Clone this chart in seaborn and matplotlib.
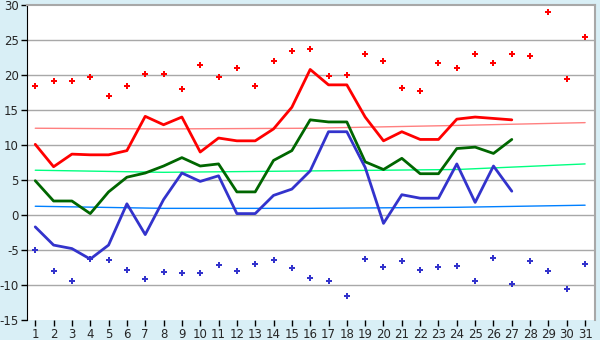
import matplotlib
matplotlib.use("Agg")
import matplotlib.pyplot as plt
import seaborn as sns
import pandas as pd

days = list(range(1, 32))
line_days = list(range(1, 28))

red_max = [18.4, 19.1, 19.2, 19.7, 17.0, 18.5, 20.2, 20.2, 18.0, 21.4,
           19.7, 21.0, 18.4, 22.0, 23.5, 23.7, 19.8, 20.0, 23.0, 22.0,
           18.1, 17.7, 21.7, 21.0, 23.0, 21.7, 23.0, 22.7, 29.0, 19.5, 25.4]
red_mean = [10.1, 6.9, 8.7, 8.6, 8.6, 9.2, 14.1, 12.9, 14.0, 9.0,
            11.0, 10.6, 10.6, 12.3, 15.4, 20.8, 18.6, 18.6, 14.0, 10.6,
            11.9, 10.8, 10.8, 13.7, 14.0, 13.8, 13.6]
green_mean = [4.9, 2.0, 2.0, 0.2, 3.3, 5.4, 6.0, 7.0, 8.2, 7.0,
              7.3, 3.3, 3.3, 7.8, 9.2, 13.6, 13.3, 13.3, 7.6, 6.5,
              8.1, 5.9, 5.9, 9.5, 9.7, 8.8, 10.8]
blue_mean = [-1.7, -4.3, -4.8, -6.3, -4.3, 1.6, -2.8, 2.2, 6.0, 4.8,
             5.6, 0.2, 0.2, 2.8, 3.7, 6.3, 11.9, 11.9, 6.8, -1.2,
             2.9, 2.4, 2.4, 7.3, 1.8, 7.0, 3.4]
blue_min = [-5.0, -8.0, -9.5, -6.3, -6.5, -7.8, -9.2, -8.2, -8.3, -8.3,
            -7.2, -8.0, -7.0, -6.5, -7.6, -9.0, -9.5, -11.6, -6.3, -7.5,
            -6.6, -7.8, -7.5, -7.3, -9.5, -6.2, -9.8, -6.6, -8.0, -10.6, -7.0]

# trend curves, read at a few days
trend_days = [1, 8, 16, 24, 31]
red_trend = [12.4, 12.3, 12.4, 12.8, 13.2]
green_trend = [6.4, 6.1, 6.3, 6.5, 7.3]
blue_trend = [1.25, 0.95, 0.95, 1.1, 1.4]

yticks = list(range(-15, 31, 5))

sns.set_style("white")
plt.rcParams['font.family'] = ['DejaVu Sans']
plt.rcParams['axes.unicode_minus'] = False

fig = plt.figure(figsize=(6, 3.4), dpi=100, facecolor="#d9eff6")
ax = fig.add_axes([0.045, 0.059, 0.947, 0.926])
ax.set_facecolor("white")

for y in yticks[1:-1]:
    ax.axhline(y, color="#a8a8a8", lw=1, zorder=0)

sns.lineplot(x=trend_days, y=red_trend, color="#ff8080", lw=1, ax=ax)
sns.lineplot(x=trend_days, y=green_trend, color="#00ff80", lw=1, ax=ax)
sns.lineplot(x=trend_days, y=blue_trend, color="#0080ff", lw=1, ax=ax)

sns.lineplot(x=line_days, y=red_mean, color="#ff0000", lw=2, ax=ax)
sns.lineplot(x=line_days, y=green_mean, color="#006600", lw=2, ax=ax)
sns.lineplot(x=line_days, y=blue_mean, color="#3333cc", lw=2, ax=ax)

sns.scatterplot(x=days, y=red_max, color="#ff0000", marker="P", s=14,
                linewidth=0, ax=ax)
sns.scatterplot(x=days, y=blue_min, color="#3333cc", marker="P", s=14,
                linewidth=0, ax=ax)

ax.set_xlim(0.55, 31.55)
ax.set_ylim(-15, 30)
ax.set_xticks(days)
ax.set_yticks(yticks)
ax.tick_params(axis="both", direction="out", length=4, width=1, color="black",
               labelsize=8.5, pad=2, left=True, bottom=True)

ax.spines["left"].set_color("black")
ax.spines["bottom"].set_visible(False)
for s in ["top", "right"]:
    ax.spines[s].set_visible(True)
    ax.spines[s].set_color("#a8a8a8")
    ax.spines[s].set_linewidth(1.5)

fig.savefig("out.png", dpi=100, facecolor=fig.get_facecolor())
